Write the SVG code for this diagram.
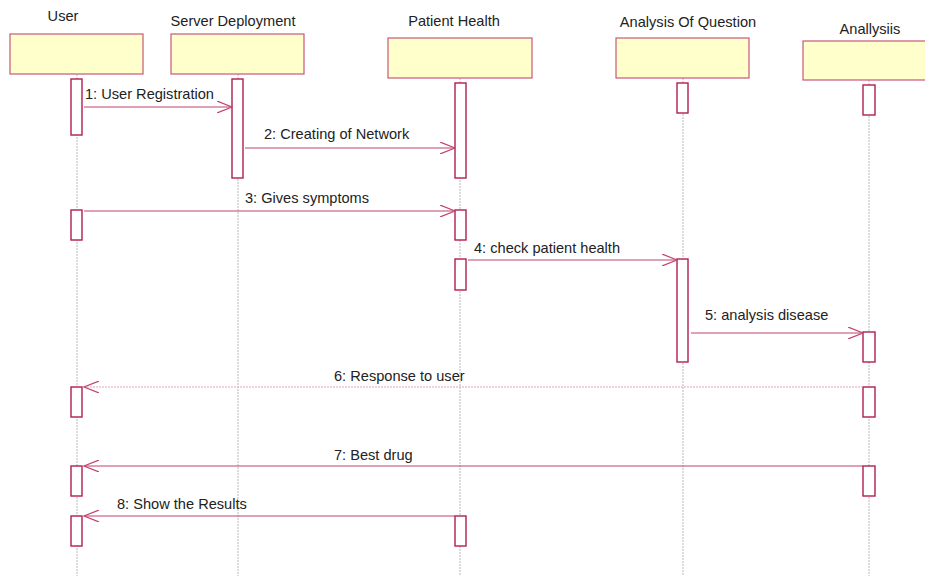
<svg xmlns="http://www.w3.org/2000/svg" width="925" height="576" viewBox="0 0 925 576">
  <style>
    .head { fill: #ffffcc; stroke: #c8587a; stroke-width: 1.2; }
    .life { stroke: #b8b8b8; stroke-width: 1; stroke-dasharray: 2 1; fill: none; }
    .act { fill: #ffffff; stroke: #b01e50; stroke-width: 1.4; }
    .msg { stroke: #c2446e; stroke-width: 1.2; fill: none; }
    .ret { stroke: #e3a6ba; stroke-width: 1.2; stroke-dasharray: 2 1; fill: none; }
    text { font-family: "Liberation Sans", Arial, sans-serif; font-size: 14.6px; fill: #222222; }
    .title { text-anchor: middle; }
  </style>
  <defs>
    <marker id="open" viewBox="0 0 16 12" refX="15" refY="6" markerWidth="16" markerHeight="12" markerUnits="userSpaceOnUse" orient="auto">
      <path d="M0,0 L15,6 L0,12" fill="none" stroke="#c2446e" stroke-width="1.2"/>
    </marker>
  </defs>

  <rect width="925" height="576" fill="#ffffff"/>

  <!-- lifelines -->
  <g id="lifelines">
    <line class="life" x1="77" y1="74" x2="77" y2="576"/>
    <line class="life" x1="238" y1="74" x2="238" y2="576"/>
    <line class="life" x1="460" y1="78" x2="460" y2="576"/>
    <line class="life" x1="683" y1="78" x2="683" y2="576"/>
    <line class="life" x1="869" y1="80" x2="869" y2="576"/>
  </g>

  <g id="user">
    <text class="title" x="63" y="21">User</text>
    <rect class="head" x="10" y="34" width="133" height="40"/>
    <rect class="act" x="71" y="79" width="11" height="56"/>
    <rect class="act" x="71" y="210" width="11" height="30"/>
    <rect class="act" x="71" y="387" width="11" height="30"/>
    <rect class="act" x="71" y="466" width="11" height="30"/>
    <rect class="act" x="71" y="516" width="11" height="30"/>
  </g>

  <g id="server-deployment">
    <text class="title" x="233" y="26">Server Deployment</text>
    <rect class="head" x="171" y="34" width="133" height="40"/>
    <rect class="act" x="232" y="79" width="11" height="99"/>
  </g>

  <g id="patient-health">
    <text class="title" x="454" y="26">Patient Health</text>
    <rect class="head" x="388" y="38" width="144" height="40"/>
    <rect class="act" x="455" y="83" width="11" height="95"/>
    <rect class="act" x="455" y="210" width="11" height="30"/>
    <rect class="act" x="455" y="259" width="11" height="31"/>
    <rect class="act" x="455" y="516" width="11" height="30"/>
  </g>

  <g id="analysis-of-question">
    <text class="title" x="688" y="27">Analysis Of Question</text>
    <rect class="head" x="616" y="38" width="133" height="40"/>
    <rect class="act" x="677" y="83" width="11" height="30"/>
    <rect class="act" x="677" y="259" width="11" height="103"/>
  </g>

  <g id="anallysiis">
    <text class="title" x="870" y="34">Anallysiis</text>
    <rect class="head" x="803" y="41" width="130" height="39"/>
    <rect class="act" x="863" y="85" width="12" height="30"/>
    <rect class="act" x="863" y="332" width="12" height="30"/>
    <rect class="act" x="863" y="387" width="12" height="30"/>
    <rect class="act" x="863" y="466" width="12" height="30"/>
  </g>

  <!-- messages -->
  <g id="connectors">
    <line class="msg" x1="84" y1="107" x2="232" y2="107" marker-end="url(#open)"/>
    <text x="85" y="99">1: User Registration</text>

    <line class="msg" x1="245" y1="148" x2="455" y2="148" marker-end="url(#open)"/>
    <text x="264" y="139">2: Creating of Network</text>

    <line class="msg" x1="84" y1="211" x2="455" y2="211" marker-end="url(#open)"/>
    <text x="245" y="203">3: Gives symptoms</text>

    <line class="msg" x1="468" y1="260" x2="677" y2="260" marker-end="url(#open)"/>
    <text x="474" y="253">4: check patient health</text>

    <line class="msg" x1="691" y1="333" x2="863" y2="333" marker-end="url(#open)"/>
    <text x="705" y="320">5: analysis disease</text>

    <line class="ret" x1="863" y1="387" x2="84" y2="387" marker-end="url(#open)"/>
    <text x="334" y="381">6: Response to user</text>

    <line class="msg" x1="863" y1="466" x2="84" y2="466" marker-end="url(#open)"/>
    <text x="334" y="460">7: Best drug</text>

    <line class="msg" x1="455" y1="516" x2="84" y2="516" marker-end="url(#open)"/>
    <text x="117" y="509">8: Show the Results</text>
  </g>
</svg>
